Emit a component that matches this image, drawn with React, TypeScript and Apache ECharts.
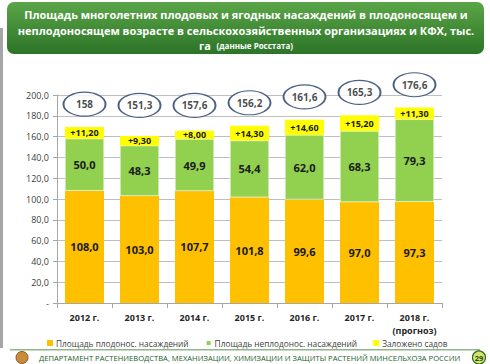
import React, { useEffect, useRef } from 'react';
import * as echarts from 'echarts';

const categories = ['2012 г.', '2013 г.', '2014 г.', '2015 г.', '2016 г.', '2017 г.', '2018 г.\n(прогноз)'];
const fruitBearing = [108.0, 103.0, 107.7, 101.8, 99.6, 97.0, 97.3];
const nonBearing = [50.0, 48.3, 49.9, 54.4, 62.0, 68.3, 79.3];
const planted = [11.2, 9.3, 8.0, 14.3, 14.6, 15.2, 11.3];
const totals = [158, 151.3, 157.6, 156.2, 161.6, 165.3, 176.6];
const seriesNames = ['Площадь плодонос. насаждений', 'Площадь неплодонос. насаждений', 'Заложено садов'];
const titleLines = [
  'Площадь многолетних плодовых и ягодных насаждений в плодоносящем и',
  'неплодоносящем возрасте в сельскохозяйственных организациях и КФХ, тыс.',
];
const titleTail = 'га';
const titleSource = '(данные Росстата)';
const footerText = 'ДЕПАРТАМЕНТ РАСТЕНИЕВОДСТВА, МЕХАНИЗАЦИИ, ХИМИЗАЦИИ И ЗАЩИТЫ РАСТЕНИЙ МИНСЕЛЬХОЗА РОССИИ';
const pageNumber = '29';

const fmt1 = (v: number) => v.toFixed(1).replace('.', ',');
const fmt2 = (v: number) => '+' + v.toFixed(2).replace('.', ',');

export default function App() {
  const ref = useRef<HTMLDivElement>(null);
  useEffect(() => {
    const chart = echarts.init(ref.current!, null, { renderer: 'svg' });
    const badgeLevel = categories.map((_, i) =>
      Math.max(fruitBearing[i] + nonBearing[i] + planted[i] + 22, 190)
    );
    const font = 'Open Sans';
    const barLabel = (size: number, f: (v: number) => string) => ({
      show: true,
      position: 'inside',
      fontSize: size,
      fontWeight: 'bold',
      color: '#1a1a1a',
      fontFamily: font,
      formatter: (p: any) => f(p.value),
    });
    chart.setOption({
      animation: false,
      backgroundColor: '#ffffff',
      textStyle: { fontFamily: font },
      grid: { left: 57, right: 48, top: 95, bottom: 61 },
      legend: {
        data: seriesNames,
        left: 42,
        top: 334,
        width: 440,
        icon: 'rect',
        itemWidth: 6,
        itemHeight: 6,
        itemGap: 16,
        textStyle: { fontSize: 8.3, color: '#404040', fontFamily: font, padding: [0, 0, 0, -2] },
      },
      xAxis: {
        type: 'category',
        data: categories,
        axisLine: { lineStyle: { color: '#A6A6A6', width: 1 } },
        axisTick: { show: true, length: 5, lineStyle: { color: '#A6A6A6' } },
        axisLabel: { interval: 0, fontSize: 9, fontWeight: 'bold', color: '#262626', margin: 8, lineHeight: 13 },
      },
      yAxis: {
        type: 'value',
        min: 0,
        max: 200,
        interval: 20,
        axisLine: { show: true, lineStyle: { color: '#A6A6A6' } },
        axisTick: { show: true, length: 4, lineStyle: { color: '#A6A6A6' } },
        splitLine: { lineStyle: { color: '#BFBFBF', width: 1.2 } },
        axisLabel: {
          fontSize: 9,
          color: '#404040',
          margin: 8,
          formatter: (v: number) => (v === 0 ? '-' : fmt1(v)),
        },
      },
      series: [
        {
          name: seriesNames[0],
          type: 'bar',
          stack: 'a',
          barWidth: 39,
          data: fruitBearing,
          itemStyle: { color: '#FFC000' },
          label: barLabel(11, fmt1),
        },
        {
          name: seriesNames[1],
          type: 'bar',
          stack: 'a',
          data: nonBearing,
          itemStyle: { color: '#92D050', borderColor: '#ffffff', borderWidth: 0.5 },
          label: barLabel(11, fmt1),
        },
        {
          name: seriesNames[2],
          type: 'bar',
          stack: 'a',
          data: planted,
          itemStyle: { color: '#FFFF00' },
          label: barLabel(9, fmt2),
        },
        {
          type: 'scatter',
          clip: false,
          silent: true,
          symbol: 'path://M0,12 A21,12 0 1,1 42,12 A21,12 0 1,1 0,12 Z',
          symbolSize: [42, 24],
          itemStyle: { color: '#ffffff', borderColor: '#1F3864', borderWidth: 1.5 },
          data: categories.map((c, i) => [c, badgeLevel[i]]),
          label: {
            show: true,
            position: 'inside',
            fontSize: 10,
            fontWeight: 'bold',
            color: '#1a1a1a',
            fontFamily: font,
            formatter: (p: any) => String(totals[p.dataIndex]).replace('.', ','),
          },
          z: 5,
        },
      ],
      graphic: [
        { type: 'rect', left: 0, top: 28, shape: { width: 3, height: 320 }, style: { fill: '#A6A6A6' } },
        {
          type: 'rect',
          left: 7,
          top: 2,
          shape: { width: 477, height: 52, r: 7 },
          style: {
            fill: new echarts.graphic.LinearGradient(0, 0, 0, 1, [
              { offset: 0, color: '#5BA548' },
              { offset: 1, color: '#2C7427' },
            ]),
          },
        },
        ...titleLines.map((t, i) => ({
          type: 'text',
          x: 246,
          y: 14 + i * 16,
          style: {
            text: t,
            align: 'center',
            verticalAlign: 'middle',
            fill: '#ffffff',
            fontSize: 11,
            fontWeight: 'bold',
            fontFamily: font,
          },
        })),
        {
          type: 'text',
          x: 246,
          y: 45,
          style: {
            text: titleTail + '  {s|' + titleSource + '}',
            align: 'center',
            verticalAlign: 'middle',
            fill: '#ffffff',
            fontSize: 11,
            fontWeight: 'bold',
            fontFamily: font,
            rich: { s: { fontSize: 8, fontWeight: 'bold', fill: '#ffffff', fontFamily: font } },
          },
        },
        { type: 'rect', left: 10, top: 349, shape: { width: 470, height: 1.5 }, style: { fill: '#8FB58A' } },
        {
          type: 'circle',
          shape: { cx: 22, cy: 357.5, r: 6 },
          style: { fill: '#C98A3A', stroke: '#8A5A20', lineWidth: 1 },
        },
        {
          type: 'text',
          x: 39,
          y: 358,
          style: {
            text: footerText,
            verticalAlign: 'middle',
            fill: '#1E5C2A',
            fontSize: 7.6,
            fontFamily: font,
          },
        },
        {
          type: 'circle',
          shape: { cx: 479, cy: 357.5, r: 6.5 },
          style: { fill: '#D6E36B', stroke: '#2E6B1F', lineWidth: 1.2 },
        },
        {
          type: 'text',
          x: 479,
          y: 357.5,
          style: { text: pageNumber, align: 'center', verticalAlign: 'middle', fill: '#1E4A15', fontSize: 7.5, fontWeight: 'bold', fontFamily: font },
        },
      ],
    });
    return () => chart.dispose();
  }, []);
  return <div ref={ref} style={{ position: 'fixed', left: 0, top: 0, width: 490, height: 364 }} />;
}
